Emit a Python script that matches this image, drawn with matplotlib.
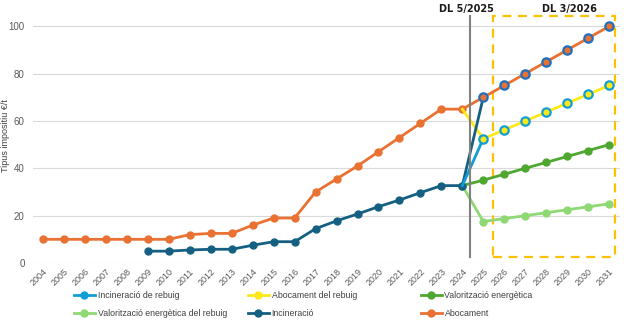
import matplotlib
matplotlib.use("Agg")
import matplotlib.pyplot as plt
from matplotlib.patches import Rectangle

plt.rcParams['font.family'] = ['Liberation Sans', 'DejaVu Sans']

years = list(range(2004, 2032))

# Abocament 2004-2031
abocament = [10, 10, 10, 10, 10, 10, 10, 12, 12.5, 12.5, 16, 19, 19, 30, 35.5, 41,
             47, 53, 59, 65, 65, 70, 75, 80, 85, 90, 95, 100]
# Incineració 2009-2025, then follows abocament to 2031
inc_years = list(range(2009, 2032))
incineracio = [5, 5, 5.5, 5.8, 5.8, 7.5, 9, 9, 14.5, 17.8, 20.7, 23.8, 26.6, 29.7, 32.7, 32.7,
               70, 75, 80, 85, 90, 95, 100]
# 2024-2031 series
new_years = list(range(2024, 2032))
abocament_rebuig = [65, 52.5, 56.25, 60, 63.75, 67.5, 71.25, 75]
incineracio_rebuig = [32.7, 52.5, 56.25, 60, 63.75, 67.5, 71.25, 75]
valoritzacio = [32.7, 35, 37.5, 40, 42.5, 45, 47.5, 50]
valoritzacio_rebuig = [32.7, 17.5, 18.75, 20, 21.25, 22.5, 23.75, 25]

c_abo = '#E97132'
c_inc = '#156082'
c_inc_ring = '#1F6FBF'
c_incr = '#0F9ED5'
c_abr = '#FFE81A'
c_val = '#4EA72E'
c_valr = '#8ED973'

fig = plt.figure(figsize=(6.24, 3.21), dpi=100)
ax = fig.add_axes([33/624, 0.1807, 0.94, 0.811])

lw = 2.0
ms = 5
ax.plot(years, abocament, color=c_abo, lw=lw, marker='o', ms=ms, zorder=3)
ax.plot(inc_years[:17], incineracio[:17], color=c_inc, lw=lw, marker='o', ms=ms, zorder=4)
ax.plot(inc_years[16:], incineracio[16:], ls='none', marker='o', ms=6,
        mfc=c_abo, mec=c_inc_ring, mew=1.6, zorder=6)
ax.plot(new_years, abocament_rebuig, color=c_abr, lw=lw, zorder=3)
ax.plot(new_years[:2], incineracio_rebuig[:2], color=c_incr, lw=lw, zorder=4)
ax.plot(new_years[1:], incineracio_rebuig[1:], ls='none', marker='o', ms=6,
        mfc=c_abr, mec=c_incr, mew=1.6, zorder=6)
ax.plot(new_years, valoritzacio, color=c_val, lw=lw, marker='o', ms=ms, zorder=3)
ax.plot(new_years, valoritzacio_rebuig, color=c_valr, lw=lw, marker='o', ms=ms, zorder=3)

# DL markers
ax.plot([2024.37, 2024.37], [2.5, 104.4], color='#808080', lw=1.5, zorder=5)
ax.add_patch(Rectangle((2025.45, 2.65), 5.82, 101.8, fill=False, ec='#FFC000',
                       lw=1.6, ls=(0, (4, 3)), zorder=2, clip_on=False))
ax.text(2024.2, 107.5, 'DL 5/2025', ha='center', va='center', fontsize=7,
        fontweight='bold', family='DejaVu Sans', color='#1a1a1a')
ax.text(2029.1, 107.5, 'DL 3/2026', ha='center', va='center', fontsize=7,
        fontweight='bold', family='DejaVu Sans', color='#1a1a1a')

ax.set_xlim(2003.52, 2031.5)
ax.set_ylim(0, 110)
ax.set_yticks([0, 20, 40, 60, 80, 100])
ax.set_xticks(years)
ax.set_xticklabels([str(y) for y in years], rotation=45, ha='right',
                   rotation_mode='anchor', fontsize=6.5, color='#595959')
ax.tick_params(axis='y', labelsize=7, colors='#595959', length=0, pad=6)
ax.tick_params(axis='x', length=0, pad=3)
ax.grid(axis='y', color='#d9d9d9', lw=0.8)
ax.set_axisbelow(True)
for s in ax.spines.values():
    s.set_visible(False)
fig.text(6/624, 1 - 136/321, 'Tipus impositiu €/t', rotation=90, ha='center', va='center',
         fontsize=6.5, color='#404040')

columns = [
    [('Incineració de rebuig', c_incr), ('Valorització energètica del rebuig', c_valr)],
    [('Abocament del rebuig', c_abr), ('Incineració', c_inc)],
    [('Valorització energètica', c_val), ('Abocament', c_abo)],
]
col_x = [66, 240, 413]
for cx, col in zip(col_x, columns):
    handles = []
    labels = []
    for lab, c in col:
        h, = ax.plot([], [], color=c, lw=lw, marker='o', ms=ms)
        handles.append(h)
        labels.append(lab)
    fig.legend(handles, labels, loc='lower left', bbox_to_anchor=(cx/624, -0.014),
               frameon=False, fontsize=6.3, handlelength=2.4, handletextpad=0.3,
               labelspacing=0.95, labelcolor='#404040', borderpad=0.4)

fig.savefig('out.png', dpi=100)
